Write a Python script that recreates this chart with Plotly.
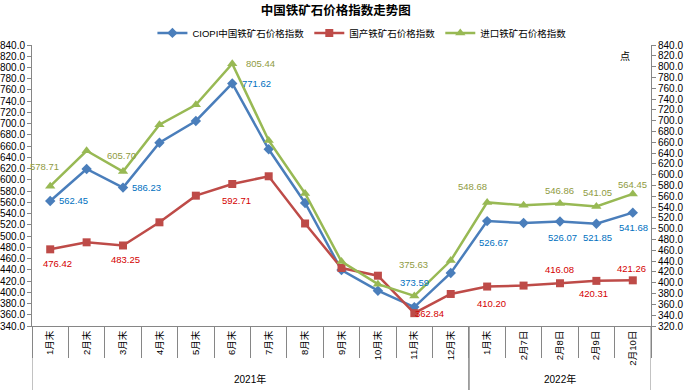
import plotly.graph_objects as go

# ---- data ----
categories = ["1月末", "2月末", "3月末", "4月末", "5月末", "6月末", "7月末", "8月末",
              "9月末", "10月末", "11月末", "12月末", "1月末", "2月7日", "2月8日", "2月9日", "2月10日"]
year_groups = ["2021年"] * 12 + ["2022年"] * 5
ciopi = [562.45, 619.4, 586.23, 666.2, 704.8, 771.62, 654.4, 558.9, 439.6, 402.8,
         373.59, 434.3, 526.67, 523.3, 526.07, 521.85, 541.68]
domestic = [476.42, 488.9, 483.25, 524.5, 571.9, 592.71, 606.4, 522.4, 443.2, 429.5,
            362.84, 397.0, 410.20, 411.9, 416.08, 420.31, 421.26]
imported = [578.71, 644.3, 605.70, 692.4, 729.4, 805.44, 663.3, 565.2, 439.3, 397.4,
            375.63, 441.1, 548.68, 543.5, 546.86, 541.05, 564.45]
series_names = ["CIOPI中国铁矿石价格指数", "国产铁矿石价格指数", "进口铁矿石价格指数"]

# ---- styles ----
FONT = "Liberation Sans, Noto Sans CJK SC, sans-serif"
AXC = "#868686"
line_colors = ["#4A7EBB", "#BE4B48", "#98B954"]
label_colors = ["#0070C0", "#D40000", "#8F9B3F"]
symbols = ["diamond", "square", "triangle-up"]
msizes = [8, 8, 9]

# label offsets (index: (xshift, yshift)) in pixels
label_offsets = [
    {0: (23, 0), 2: (23, 0), 5: (24, 0), 10: (0, 25), 12: (6, -21), 14: (3, -16), 15: (1, -14), 16: (1, -15)},
    {0: (7, -14), 2: (2, -14), 5: (4, -17), 10: (15, 0), 12: (4, -17), 14: (0, 14), 15: (-3, -13), 16: (-1, 12)},
    {0: (-6, 20), 2: (-2, 16), 5: (28, 0), 10: (-1, 31), 12: (-15, 16), 14: (0, 13), 15: (1, 14), 16: (0, 9)},
]

x = list(range(len(categories)))
all_series = [ciopi, domestic, imported]
yrefs = ["y", "y", "y2"]

fig = go.Figure()
for i, vals in enumerate(all_series):
    fig.add_trace(go.Scatter(
        x=x, y=vals, name=series_names[i], mode="lines+markers",
        line=dict(color=line_colors[i], width=2.5),
        marker=dict(symbol=symbols[i], size=msizes[i], color=line_colors[i]),
        yaxis=yrefs[i],
    ))

annotations = []
for i, vals in enumerate(all_series):
    for idx, (dx, dy) in label_offsets[i].items():
        annotations.append(dict(
            x=x[idx], y=vals[idx], xref="x", yref=yrefs[i],
            text=f"{vals[idx]:.2f}", showarrow=False,
            xshift=dx, yshift=dy,
            font=dict(family=FONT, size=9.5, color=label_colors[i]),
        ))

# year group labels & dividers
groups = []
for g in dict.fromkeys(year_groups):
    idxs = [k for k, yg in enumerate(year_groups) if yg == g]
    groups.append((g, idxs[0], idxs[-1]))
shapes = []
for g, a, b in groups:
    annotations.append(dict(
        x=(a + b) / 2, y=-0.19, xref="x", yref="paper", text=g, showarrow=False,
        font=dict(family=FONT, size=10, color="#000000"), yanchor="middle",
    ))
    for xb in (a - 0.5, b + 0.5):
        shapes.append(dict(type="line", xref="x", yref="paper", x0=xb, x1=xb,
                           y0=0, y1=-0.23, line=dict(color=AXC, width=1)))

annotations.append(dict(
    x=0.969, y=0.985, xref="paper", yref="paper", text="点", showarrow=False,
    font=dict(family=FONT, size=10, color="#000000"),
))

fig.update_layout(
    width=685, height=390,
    margin=dict(l=32, r=34, t=45, b=64),
    paper_bgcolor="white", plot_bgcolor="white",
    font=dict(family=FONT, size=10, color="#000000"),
    title=dict(text="<b>中国铁矿石价格指数走势图</b>", x=0.49, xref="container", xanchor="center",
               y=0.972, yref="container", yanchor="middle",
               font=dict(family=FONT, size=12.5, color="#000000")),
    legend=dict(orientation="h", x=0.533, xanchor="center", y=1.043, yanchor="middle",
                font=dict(family=FONT, size=9.5), itemwidth=30, bgcolor="rgba(0,0,0,0)"),
    xaxis=dict(
        range=[-0.5, len(categories) - 0.5], tickmode="array", tickvals=x, ticktext=categories,
        tickangle=-90, ticks="", showline=True, linecolor=AXC, showgrid=False, zeroline=False,
        automargin=False, tickfont=dict(family=FONT, size=9.5),
        minor=dict(tickmode="array", tickvals=[k - 0.5 for k in range(len(categories) + 1)],
                   ticks="outside", ticklen=31, tickcolor=AXC, showgrid=False),
    ),
    yaxis=dict(
        range=[340, 840], dtick=20, tick0=340, tickformat=".1f", ticks="outside", ticklen=4,
        tickcolor=AXC, showline=True, linecolor=AXC, showgrid=False, zeroline=False,
        automargin=False, tickfont=dict(family=FONT, size=10),
    ),
    yaxis2=dict(
        range=[320, 840], dtick=20, tick0=320, tickformat=".1f", ticks="outside", ticklen=4,
        tickcolor=AXC, showline=True, linecolor=AXC, showgrid=False, zeroline=False,
        automargin=False, overlaying="y", side="right", tickfont=dict(family=FONT, size=10),
    ),
    annotations=annotations, shapes=shapes,
)

fig.write_html("out.html", config={"displayModeBar": False},
               post_script="document.body.style.margin='0';")
